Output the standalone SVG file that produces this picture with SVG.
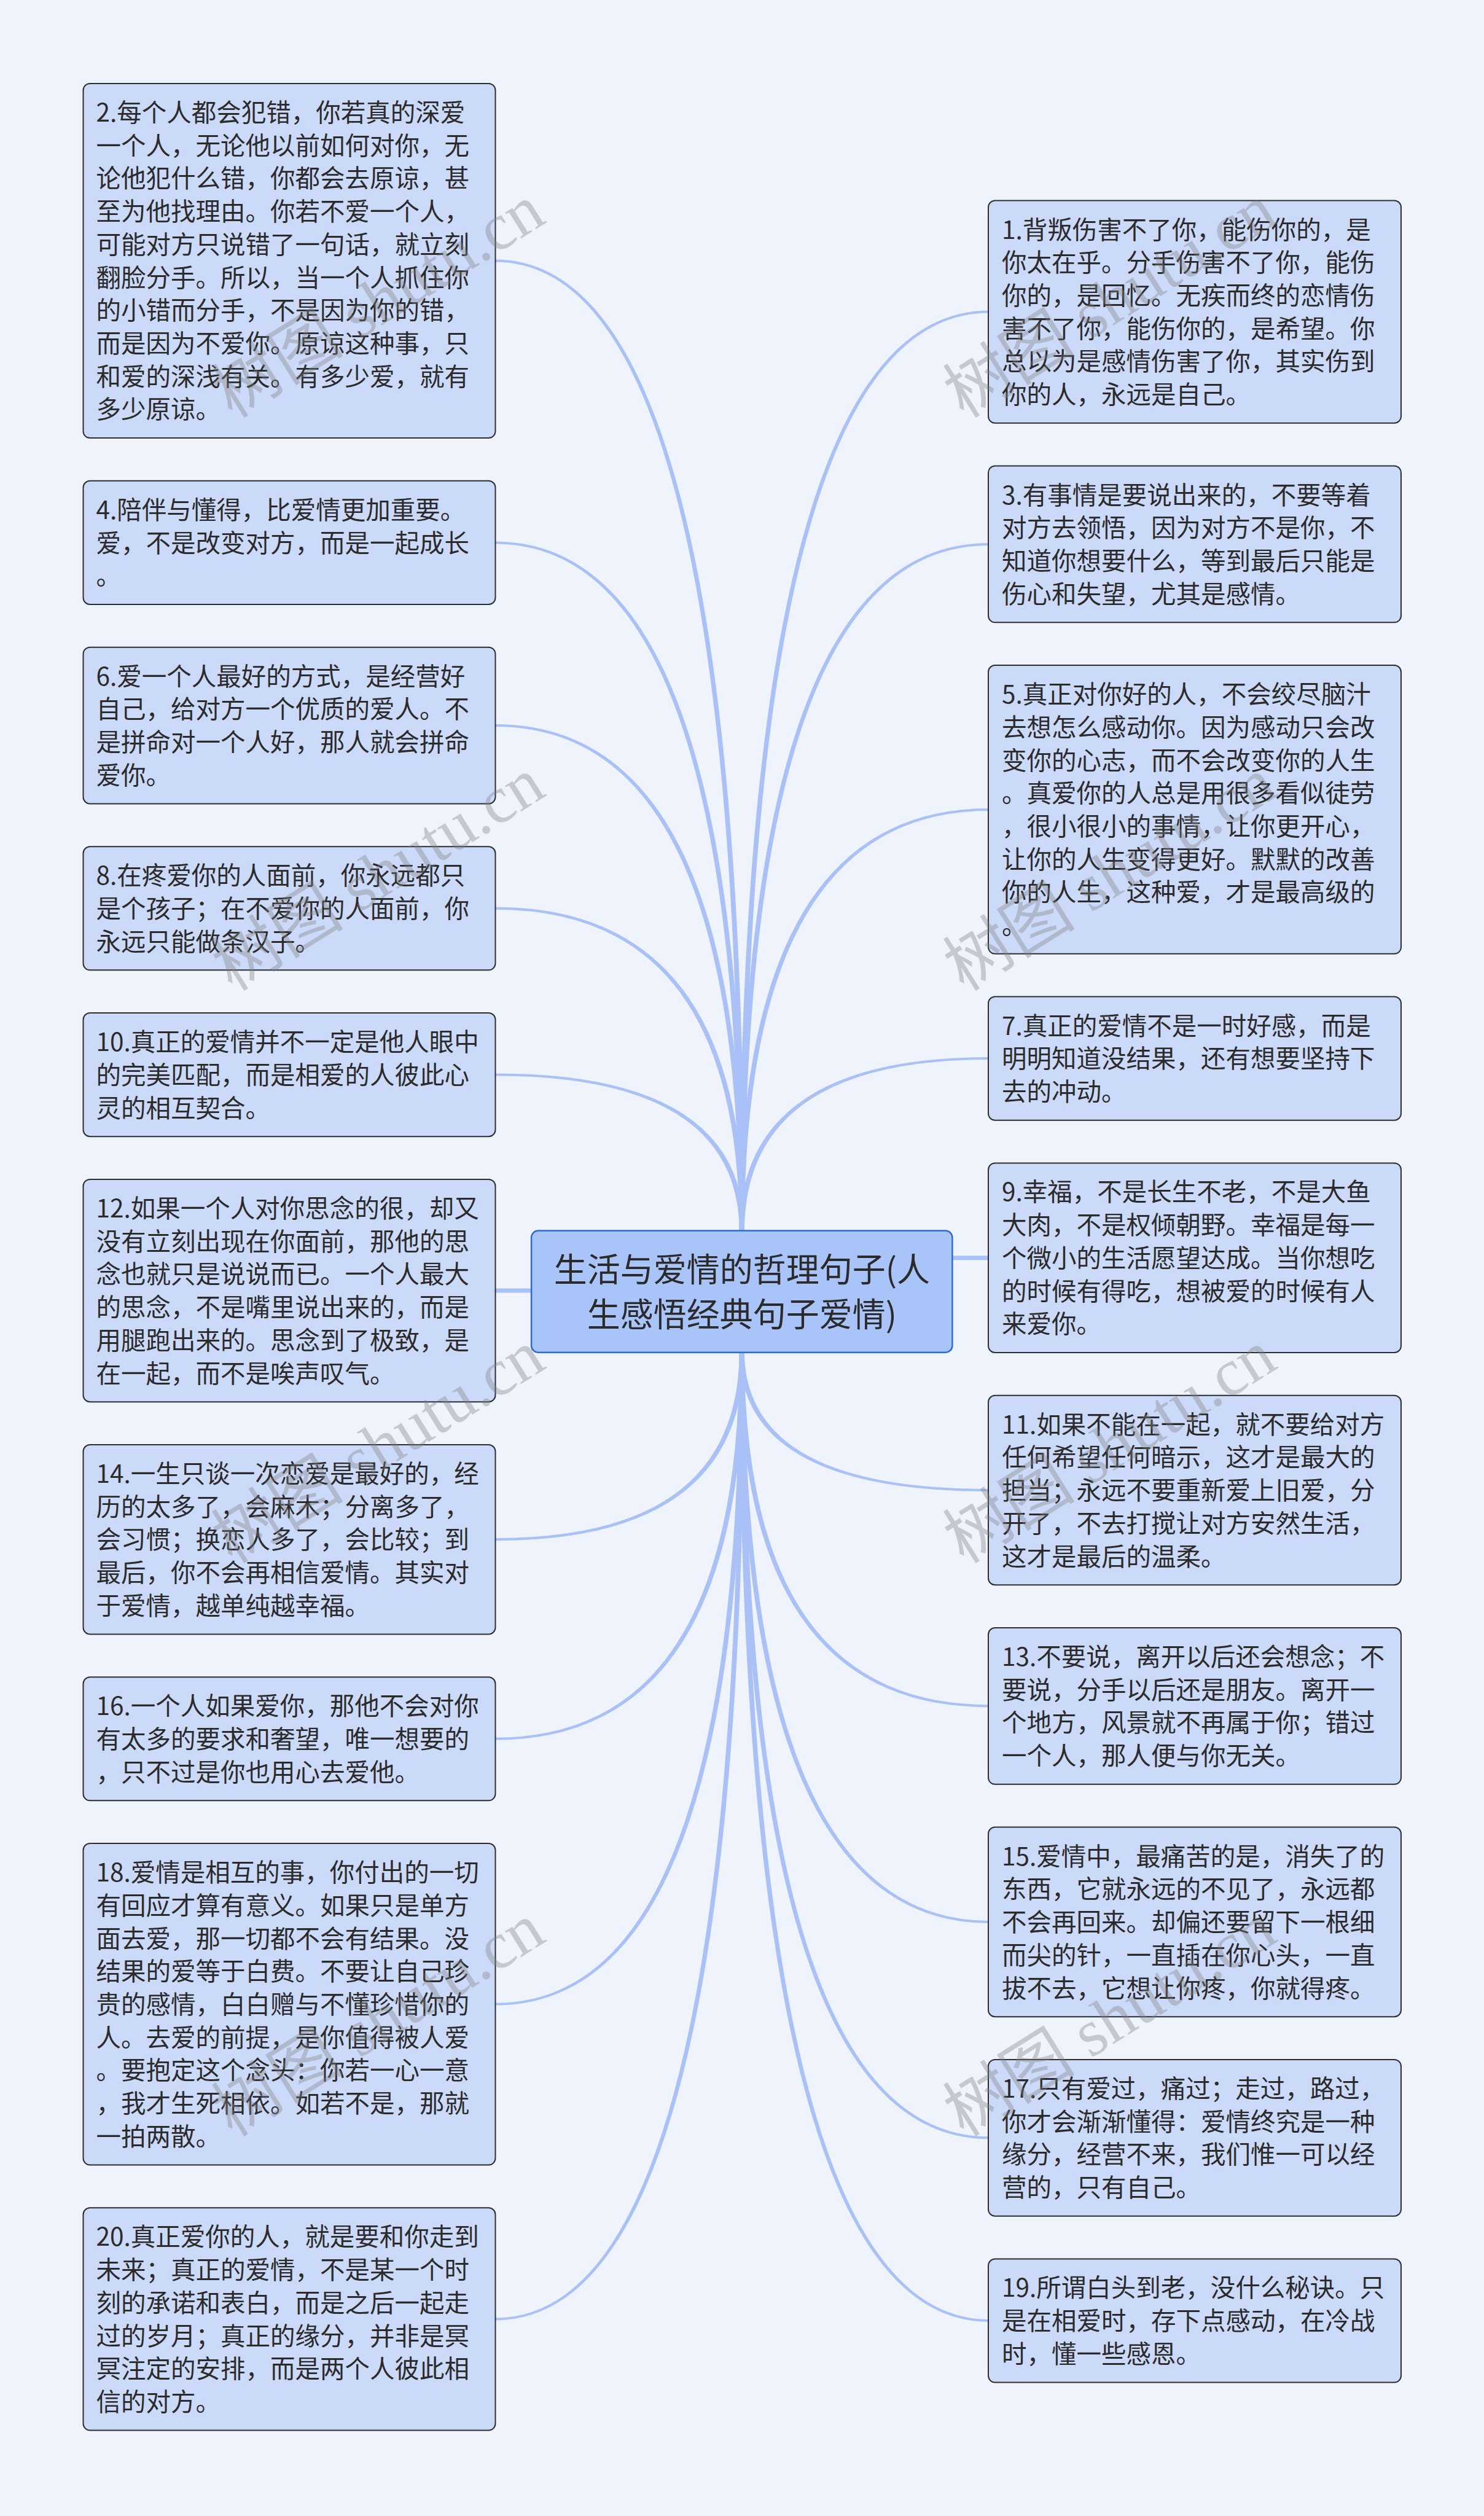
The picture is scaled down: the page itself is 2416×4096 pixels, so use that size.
<svg xmlns="http://www.w3.org/2000/svg" width="2416" height="4096" viewBox="0 0 2416 4096">
<style>
.bg{fill:#EEF3FC}
.conn path{fill:#A9C1F6}
.node rect{fill:#CCDAF9;stroke:#2E2E2E;stroke-width:2}
.t{font-family:"Noto Sans CJK SC","Noto Sans",sans-serif;font-size:40.5px;fill:#2B2B2B}
.root rect{fill:#A9C4F9;stroke:#2C6DD5;stroke-width:2.5}
.rt{font-family:"Noto Sans CJK SC","Noto Sans",sans-serif;font-size:54px;fill:#2B2B2B;text-anchor:middle}
.wm{font-family:"Liberation Serif","Noto Sans CJK SC",serif;font-size:108px;fill:#808080;fill-opacity:0.37;text-anchor:middle}
</style>
<rect class="bg" x="0" y="0" width="2416" height="4096"/>
<g id="connectors" class="conn">
<path d="M1211.8,2006 Q1211.8,422.5 806,422.5 L806,426.5 Q1203.8,426.5 1203.8,2006Z"/>
<path d="M1211.8,2006 Q1211.8,881.4 806,881.4 L806,885.4 Q1203.8,885.4 1203.8,2006Z"/>
<path d="M1211.8,2006 Q1211.8,1179.1 806,1179.1 L806,1183.1 Q1203.8,1183.1 1203.8,2006Z"/>
<path d="M1211.8,2006 Q1211.8,1476.8 806,1476.8 L806,1480.8 Q1203.8,1480.8 1203.8,2006Z"/>
<path d="M1211.8,2006 Q1211.8,1747.6 806,1747.6 L806,1751.6 Q1203.8,1751.6 1203.8,2006Z"/>
<path d="M1203.8,2006 Q1203.8,505.6 1610,505.6 L1610,509.6 Q1211.8,509.6 1211.8,2006Z"/>
<path d="M1203.8,2006 Q1203.8,883.9 1610,883.9 L1610,887.9 Q1211.8,887.9 1211.8,2006Z"/>
<path d="M1203.8,2006 Q1203.8,1316 1610,1316 L1610,1320 Q1211.8,1320 1211.8,2006Z"/>
<path d="M1203.8,2006 Q1203.8,1721.1 1610,1721.1 L1610,1725.1 Q1211.8,1725.1 1211.8,2006Z"/>
<path d="M1211.8,2199 Q1211.8,2508.2 806,2508.2 L806,2504.2 Q1203.8,2504.2 1203.8,2199Z"/>
<path d="M1211.8,2199 Q1211.8,2832.8 806,2832.8 L806,2828.8 Q1203.8,2828.8 1203.8,2199Z"/>
<path d="M1211.8,2199 Q1211.8,3264.8 806,3264.8 L806,3260.8 Q1203.8,3260.8 1203.8,2199Z"/>
<path d="M1211.8,2199 Q1211.8,3777.5 806,3777.5 L806,3773.5 Q1203.8,3773.5 1203.8,2199Z"/>
<path d="M1203.8,2199 Q1203.8,2428 1610,2428 L1610,2424 Q1211.8,2424 1211.8,2199Z"/>
<path d="M1203.8,2199 Q1203.8,2779.4 1610,2779.4 L1610,2775.4 Q1211.8,2775.4 1211.8,2199Z"/>
<path d="M1203.8,2199 Q1203.8,3130.9 1610,3130.9 L1610,3126.9 Q1211.8,3126.9 1211.8,2199Z"/>
<path d="M1203.8,2199 Q1203.8,3482.3 1610,3482.3 L1610,3478.3 Q1211.8,3478.3 1211.8,2199Z"/>
<path d="M1203.8,2199 Q1203.8,3780 1610,3780 L1610,3776 Q1211.8,3776 1211.8,2199Z"/>
<path d="M806,2097.6 L1000,2097.6 L1000,2104.6 L806,2104.6Z"/>
<path d="M1400,2044.2 L1610,2044.2 L1610,2051.2 L1400,2051.2Z"/>
</g>
<g id="root" class="root">
<rect x="865.1" y="2003.6" width="685.3" height="198.1" rx="11"/>
<text class="rt"><tspan x="1207.8" y="2086.5">生活与爱情的哲理句子(人</tspan><tspan x="1207.8" y="2159.5">生感悟经典句子爱情)</tspan></text>
</g>
<g id="n2" class="node"><rect x="135.5" y="135.9" width="671" height="577.2" rx="11"/>
<text class="t" y="197.9"><tspan x="156.5">2.每个人都会犯错，你若真的深爱</tspan><tspan x="156.5" dy="53.73">一个人，无论他以前如何对你，无</tspan><tspan x="156.5" dy="53.73">论他犯什么错，你都会去原谅，甚</tspan><tspan x="156.5" dy="53.73">至为他找理由。你若不爱一个人，</tspan><tspan x="156.5" dy="53.73">可能对方只说错了一句话，就立刻</tspan><tspan x="156.5" dy="53.73">翻脸分手。所以，当一个人抓住你</tspan><tspan x="156.5" dy="53.73">的小错而分手，不是因为你的错，</tspan><tspan x="156.5" dy="53.73">而是因为不爱你。原谅这种事，只</tspan><tspan x="156.5" dy="53.73">和爱的深浅有关。有多少爱，就有</tspan><tspan x="156.5" dy="53.73">多少原谅。</tspan></text></g>
<g id="n4" class="node"><rect x="135.5" y="782.85" width="671" height="201.09" rx="11"/>
<text class="t" y="844.85"><tspan x="156.5">4.陪伴与懂得，比爱情更加重要。</tspan><tspan x="156.5" dy="53.73">爱，不是改变对方，而是一起成长</tspan><tspan x="156.5" dy="53.73">。</tspan></text></g>
<g id="n6" class="node"><rect x="135.5" y="1053.69" width="671" height="254.82" rx="11"/>
<text class="t" y="1115.69"><tspan x="156.5">6.爱一个人最好的方式，是经营好</tspan><tspan x="156.5" dy="53.73">自己，给对方一个优质的爱人。不</tspan><tspan x="156.5" dy="53.73">是拼命对一个人好，那人就会拼命</tspan><tspan x="156.5" dy="53.73">爱你。</tspan></text></g>
<g id="n8" class="node"><rect x="135.5" y="1378.26" width="671" height="201.09" rx="11"/>
<text class="t" y="1440.26"><tspan x="156.5">8.在疼爱你的人面前，你永远都只</tspan><tspan x="156.5" dy="53.73">是个孩子；在不爱你的人面前，你</tspan><tspan x="156.5" dy="53.73">永远只能做条汉子。</tspan></text></g>
<g id="n10" class="node"><rect x="135.5" y="1649.1" width="671" height="201.09" rx="11"/>
<text class="t" y="1711.1"><tspan x="156.5">10.真正的爱情并不一定是他人眼中</tspan><tspan x="156.5" dy="53.73">的完美匹配，而是相爱的人彼此心</tspan><tspan x="156.5" dy="53.73">灵的相互契合。</tspan></text></g>
<g id="n12" class="node"><rect x="135.5" y="1919.94" width="671" height="362.28" rx="11"/>
<text class="t" y="1981.94"><tspan x="156.5">12.如果一个人对你思念的很，却又</tspan><tspan x="156.5" dy="53.73">没有立刻出现在你面前，那他的思</tspan><tspan x="156.5" dy="53.73">念也就只是说说而已。一个人最大</tspan><tspan x="156.5" dy="53.73">的思念，不是嘴里说出来的，而是</tspan><tspan x="156.5" dy="53.73">用腿跑出来的。思念到了极致，是</tspan><tspan x="156.5" dy="53.73">在一起，而不是唉声叹气。</tspan></text></g>
<g id="n14" class="node"><rect x="135.5" y="2351.97" width="671" height="308.55" rx="11"/>
<text class="t" y="2413.97"><tspan x="156.5">14.一生只谈一次恋爱是最好的，经</tspan><tspan x="156.5" dy="53.73">历的太多了，会麻木；分离多了，</tspan><tspan x="156.5" dy="53.73">会习惯；换恋人多了，会比较；到</tspan><tspan x="156.5" dy="53.73">最后，你不会再相信爱情。其实对</tspan><tspan x="156.5" dy="53.73">于爱情，越单纯越幸福。</tspan></text></g>
<g id="n16" class="node"><rect x="135.5" y="2730.27" width="671" height="201.09" rx="11"/>
<text class="t" y="2792.27"><tspan x="156.5">16.一个人如果爱你，那他不会对你</tspan><tspan x="156.5" dy="53.73">有太多的要求和奢望，唯一想要的</tspan><tspan x="156.5" dy="53.73">，只不过是你也用心去爱他。</tspan></text></g>
<g id="n18" class="node"><rect x="135.5" y="3001.11" width="671" height="523.47" rx="11"/>
<text class="t" y="3063.11"><tspan x="156.5">18.爱情是相互的事，你付出的一切</tspan><tspan x="156.5" dy="53.73">有回应才算有意义。如果只是单方</tspan><tspan x="156.5" dy="53.73">面去爱，那一切都不会有结果。没</tspan><tspan x="156.5" dy="53.73">结果的爱等于白费。不要让自己珍</tspan><tspan x="156.5" dy="53.73">贵的感情，白白赠与不懂珍惜你的</tspan><tspan x="156.5" dy="53.73">人。去爱的前提，是你值得被人爱</tspan><tspan x="156.5" dy="53.73">。要抱定这个念头：你若一心一意</tspan><tspan x="156.5" dy="53.73">，我才生死相依。如若不是，那就</tspan><tspan x="156.5" dy="53.73">一拍两散。</tspan></text></g>
<g id="n20" class="node"><rect x="135.5" y="3594.33" width="671" height="362.28" rx="11"/>
<text class="t" y="3656.33"><tspan x="156.5">20.真正爱你的人，就是要和你走到</tspan><tspan x="156.5" dy="53.73">未来；真正的爱情，不是某一个时</tspan><tspan x="156.5" dy="53.73">刻的承诺和表白，而是之后一起走</tspan><tspan x="156.5" dy="53.73">过的岁月；真正的缘分，并非是冥</tspan><tspan x="156.5" dy="53.73">冥注定的安排，而是两个人彼此相</tspan><tspan x="156.5" dy="53.73">信的对方。</tspan></text></g>
<g id="n1" class="node"><rect x="1609" y="326.5" width="672" height="362.28" rx="11"/>
<text class="t" y="388.5"><tspan x="1631">1.背叛伤害不了你，能伤你的，是</tspan><tspan x="1631" dy="53.73">你太在乎。分手伤害不了你，能伤</tspan><tspan x="1631" dy="53.73">你的，是回忆。无疾而终的恋情伤</tspan><tspan x="1631" dy="53.73">害不了你，能伤你的，是希望。你</tspan><tspan x="1631" dy="53.73">总以为是感情伤害了你，其实伤到</tspan><tspan x="1631" dy="53.73">你的人，永远是自己。</tspan></text></g>
<g id="n3" class="node"><rect x="1609" y="758.53" width="672" height="254.82" rx="11"/>
<text class="t" y="820.53"><tspan x="1631">3.有事情是要说出来的，不要等着</tspan><tspan x="1631" dy="53.73">对方去领悟，因为对方不是你，不</tspan><tspan x="1631" dy="53.73">知道你想要什么，等到最后只能是</tspan><tspan x="1631" dy="53.73">伤心和失望，尤其是感情。</tspan></text></g>
<g id="n5" class="node"><rect x="1609" y="1083.1" width="672" height="469.74" rx="11"/>
<text class="t" y="1145.1"><tspan x="1631">5.真正对你好的人，不会绞尽脑汁</tspan><tspan x="1631" dy="53.73">去想怎么感动你。因为感动只会改</tspan><tspan x="1631" dy="53.73">变你的心志，而不会改变你的人生</tspan><tspan x="1631" dy="53.73">。真爱你的人总是用很多看似徒劳</tspan><tspan x="1631" dy="53.73">，很小很小的事情，让你更开心，</tspan><tspan x="1631" dy="53.73">让你的人生变得更好。默默的改善</tspan><tspan x="1631" dy="53.73">你的人生，这种爱，才是最高级的</tspan><tspan x="1631" dy="53.73">。</tspan></text></g>
<g id="n7" class="node"><rect x="1609" y="1622.59" width="672" height="201.09" rx="11"/>
<text class="t" y="1684.59"><tspan x="1631">7.真正的爱情不是一时好感，而是</tspan><tspan x="1631" dy="53.73">明明知道没结果，还有想要坚持下</tspan><tspan x="1631" dy="53.73">去的冲动。</tspan></text></g>
<g id="n9" class="node"><rect x="1609" y="1893.43" width="672" height="308.55" rx="11"/>
<text class="t" y="1955.43"><tspan x="1631">9.幸福，不是长生不老，不是大鱼</tspan><tspan x="1631" dy="53.73">大肉，不是权倾朝野。幸福是每一</tspan><tspan x="1631" dy="53.73">个微小的生活愿望达成。当你想吃</tspan><tspan x="1631" dy="53.73">的时候有得吃，想被爱的时候有人</tspan><tspan x="1631" dy="53.73">来爱你。</tspan></text></g>
<g id="n11" class="node"><rect x="1609" y="2271.73" width="672" height="308.55" rx="11"/>
<text class="t" y="2333.73"><tspan x="1631">11.如果不能在一起，就不要给对方</tspan><tspan x="1631" dy="53.73">任何希望任何暗示，这才是最大的</tspan><tspan x="1631" dy="53.73">担当；永远不要重新爱上旧爱，分</tspan><tspan x="1631" dy="53.73">开了，不去打搅让对方安然生活，</tspan><tspan x="1631" dy="53.73">这才是最后的温柔。</tspan></text></g>
<g id="n13" class="node"><rect x="1609" y="2650.03" width="672" height="254.82" rx="11"/>
<text class="t" y="2712.03"><tspan x="1631">13.不要说，离开以后还会想念；不</tspan><tspan x="1631" dy="53.73">要说，分手以后还是朋友。离开一</tspan><tspan x="1631" dy="53.73">个地方，风景就不再属于你；错过</tspan><tspan x="1631" dy="53.73">一个人，那人便与你无关。</tspan></text></g>
<g id="n15" class="node"><rect x="1609" y="2974.6" width="672" height="308.55" rx="11"/>
<text class="t" y="3036.6"><tspan x="1631">15.爱情中，最痛苦的是，消失了的</tspan><tspan x="1631" dy="53.73">东西，它就永远的不见了，永远都</tspan><tspan x="1631" dy="53.73">不会再回来。却偏还要留下一根细</tspan><tspan x="1631" dy="53.73">而尖的针，一直插在你心头，一直</tspan><tspan x="1631" dy="53.73">拔不去，它想让你疼，你就得疼。</tspan></text></g>
<g id="n17" class="node"><rect x="1609" y="3352.9" width="672" height="254.82" rx="11"/>
<text class="t" y="3414.9"><tspan x="1631">17.只有爱过，痛过；走过，路过，</tspan><tspan x="1631" dy="53.73">你才会渐渐懂得：爱情终究是一种</tspan><tspan x="1631" dy="53.73">缘分，经营不来，我们惟一可以经</tspan><tspan x="1631" dy="53.73">营的，只有自己。</tspan></text></g>
<g id="n19" class="node"><rect x="1609" y="3677.47" width="672" height="201.09" rx="11"/>
<text class="t" y="3739.47"><tspan x="1631">19.所谓白头到老，没什么秘诀。只</tspan><tspan x="1631" dy="53.73">是在相爱时，存下点感动，在冷战</tspan><tspan x="1631" dy="53.73">时，懂一些感恩。</tspan></text></g>
<g id="watermark">
<text class="wm" transform="translate(616,491) rotate(-32)" dy="36">树图 shutu.cn</text>
<text class="wm" transform="translate(616,1424) rotate(-32)" dy="36">树图 shutu.cn</text>
<text class="wm" transform="translate(616,2356) rotate(-32)" dy="36">树图 shutu.cn</text>
<text class="wm" transform="translate(616,3289) rotate(-32)" dy="36">树图 shutu.cn</text>
<text class="wm" transform="translate(1807,491) rotate(-32)" dy="36">树图 shutu.cn</text>
<text class="wm" transform="translate(1807,1424) rotate(-32)" dy="36">树图 shutu.cn</text>
<text class="wm" transform="translate(1807,2356) rotate(-32)" dy="36">树图 shutu.cn</text>
<text class="wm" transform="translate(1807,3289) rotate(-32)" dy="36">树图 shutu.cn</text>
</g>
</svg>
